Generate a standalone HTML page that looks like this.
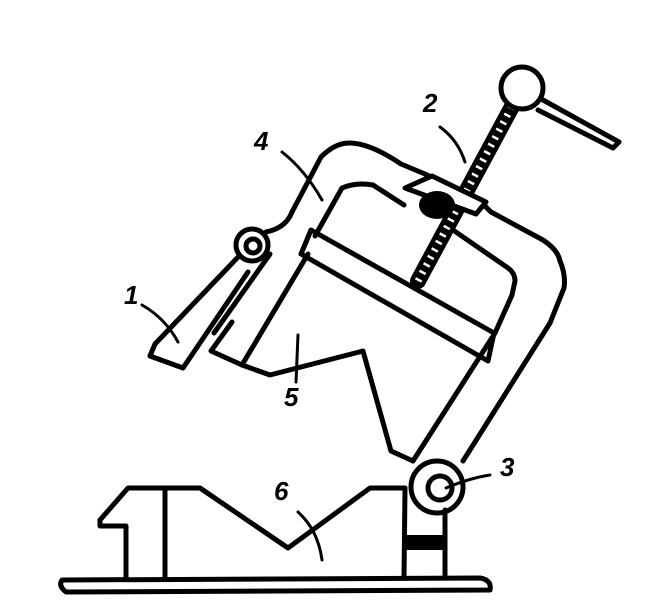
<!DOCTYPE html>
<html><head><style>html,body{margin:0;padding:0;background:#fff}svg{display:block}</style></head>
<body>
<svg width="648" height="612" viewBox="0 0 648 612" xmlns="http://www.w3.org/2000/svg">
<g fill="none" stroke="#000" stroke-width="5" stroke-linejoin="round" stroke-linecap="round">
<!-- base plate -->
<path d="M62,580 L480,578 Q492,580 490,590 L66,592 Q58,586 62,580 Z"/>
<!-- vise body -->
<path d="M100,520 L128,488 L200,488 L288,548 L370,488 L405,488"/>
<path d="M100,520 L100,526 L126,526 L126,577"/>
<path d="M165,488 L165,577"/>
<path d="M405,488 L404,578 M445,510 L445,578"/>
<rect x="405" y="535" width="40" height="15" fill="#000" stroke="none"/>
<!-- pivot 3 -->
<circle cx="437" cy="487" r="26"/>
<circle cx="440" cy="488" r="12"/>
<!-- frame outer -->
<path d="M266,232 Q286,228 292,212 L321,157 Q335,143 349,143 Q370,143 401,164 L425,174 L481,202 L491,212 L543,240 Q558,250 560,261 Q566,275 564,288 L550,323 L463,461"/>
<!-- frame inner -->
<path d="M315,236 L342,188 Q356,182 373,185 L404,205 M453,230 L508,268 Q515,273 515,281 L512,295 L495,333 L413,461"/>
<!-- left arm -->
<path d="M308,254 L242,365 L211,351 L232,322"/>
<path d="M270,254 L214,333"/>
<!-- jaw bar -->
<path d="M311,230 L494,333 L488,361 L301,254 Z"/>
<!-- workpiece 5 -->
<path d="M242,365 L270,375 L363,351 L391,451 L413,461"/>
<!-- handle 1 -->
<path d="M155,344 L240,255 M183,368 L248,272 M150,356 L183,368 M150,356 L155,344"/>
<!-- lug 1 -->
<circle cx="252" cy="245" r="16" fill="#fff"/>
<circle cx="253" cy="246" r="7"/>
<!-- screw -->
<path d="M418,281 L515,101" stroke-width="16"/>
<path d="M418,281 L515,101" stroke="#fff" stroke-width="7" stroke-linecap="butt" stroke-dasharray="2.5 6"/>
<path d="M405,188 L432,176 L486,202 L476,214 Z" fill="#fff"/>
<ellipse cx="437" cy="205" rx="18" ry="14" fill="#000" stroke="none"/>
<circle cx="522" cy="88" r="21" fill="#fff"/>
<path d="M543,100 L619,142 L613,148 L538,110"/>
<!-- leaders -->
<path d="M440,127 Q458,140 465,162" stroke-width="3"/>
<path d="M282,152 Q305,170 322,200" stroke-width="3"/>
<path d="M142,305 Q165,318 178,342" stroke-width="3"/>
<path d="M298,335 L296,382" stroke-width="3"/>
<path d="M490,475 Q470,478 446,488" stroke-width="3"/>
<path d="M298,512 Q318,530 322,560" stroke-width="3"/>
</g>
<g font-family="Liberation Sans, sans-serif" font-style="italic" font-weight="bold" font-size="26" fill="#000">
<text x="423" y="112">2</text>
<text x="254" y="150">4</text>
<text x="124" y="304">1</text>
<text x="284" y="406">5</text>
<text x="500" y="476">3</text>
<text x="274" y="500">6</text>
</g>
</svg>
</body></html>
